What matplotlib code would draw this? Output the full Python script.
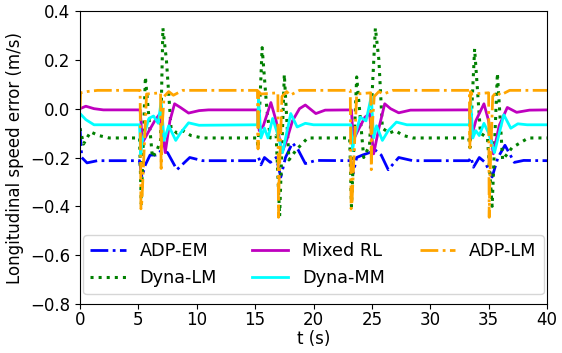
import matplotlib
matplotlib.use("Agg")
import matplotlib.pyplot as plt

# ---------------- data ----------------
t_adp_em = [0, 0.15, 0.6, 1.5, 5.1, 5.3, 5.6, 6.0, 6.5, 7.0, 7.5, 8.3, 9.4, 10.5,
            15.1, 15.3, 15.5, 15.8, 16.3, 16.8, 17.2, 17.6, 18.2, 18.7, 19.3, 20.2,
            23.2, 23.4, 23.7, 24.2, 24.8, 25.3, 25.8, 26.4, 27.3, 28.5,
            33.3, 33.5, 33.7, 34.2, 34.7, 35.3, 35.8, 36.4, 37.2, 38.0, 40]
v_adp_em = [-0.08, -0.2, -0.222, -0.213, -0.213, -0.28, -0.23, -0.19, -0.19, -0.17, -0.18, -0.25, -0.2, -0.213,
            -0.213, -0.2, -0.23, -0.2, -0.22, -0.2, -0.28, -0.2, -0.14, -0.17, -0.225, -0.212,
            -0.213, -0.265, -0.2, -0.19, -0.18, -0.17, -0.19, -0.25, -0.2, -0.213,
            -0.213, -0.2, -0.24, -0.2, -0.22, -0.28, -0.2, -0.15, -0.22, -0.212, -0.213]

t_dyna_lm = [0, 0.3, 0.9, 1.6, 2.5, 5.1, 5.25, 5.6, 6.2, 6.6, 6.9, 7.1, 7.4, 7.8, 8.3, 8.8, 9.5, 10.5,
             15.15, 15.25, 15.6, 16.0, 16.3, 16.8, 17.1, 17.5, 17.9, 18.5, 19.5,
             23.1, 23.25, 23.7, 24.3, 24.8, 25.3, 25.6, 25.9, 26.5, 27.0, 27.7, 28.5,
             33.3, 33.4, 33.8, 34.3, 34.9, 35.3, 35.75, 36.2, 37.0, 38.4, 40]
v_dyna_lm = [-0.08, -0.145, -0.095, -0.11, -0.12, -0.12, -0.39, 0.13, -0.2, -0.17, -0.13, 0.33, 0.2, -0.08, -0.1, -0.09, -0.11, -0.12,
             -0.12, -0.16, 0.25, 0.0, -0.12, -0.11, -0.44, 0.14, -0.21, -0.17, -0.12,
             -0.12, -0.40, 0.13, -0.2, -0.15, 0.33, 0.2, -0.08, -0.1, -0.09, -0.11, -0.12,
             -0.12, -0.16, 0.245, -0.1, -0.12, -0.40, 0.145, -0.21, -0.16, -0.12, -0.12]

t_mixed = [0, 0.5, 1.2, 2.0, 5.15, 5.35, 5.8, 6.4, 6.85, 7.3, 7.7, 8.1, 8.6, 9.3, 10.2, 11.0,
           15.2, 15.35, 15.7, 16.35, 16.8, 17.3, 17.7, 18.2, 18.8, 19.3, 20.2, 21.0,
           23.25, 23.4, 23.7, 24.4, 24.8, 25.15, 25.6, 26.1, 26.6, 27.3, 28.3,
           33.35, 33.5, 33.9, 34.6, 35.0, 35.4, 35.9, 36.6, 37.4, 38.5, 40]
v_mixed = [0.0, 0.01, 0.0, -0.005, -0.005, -0.14, -0.1, -0.05, -0.02, -0.18, -0.05, 0.02, 0.005, -0.018, -0.008, -0.005,
           -0.005, -0.09, -0.07, 0.025, -0.05, -0.18, -0.13, -0.05, 0.0, 0.015, -0.02, -0.006,
           -0.005, -0.13, -0.1, -0.035, -0.02, -0.185, -0.08, 0.02, 0.0, -0.017, -0.006,
           -0.005, -0.12, -0.05, 0.02, -0.05, -0.185, -0.07, 0.005, -0.015, -0.006, -0.005]

t_dyna_mm = [0, 0.5, 1.2, 5.1, 5.2, 5.35, 5.9, 6.3, 6.7, 6.95, 7.2, 7.6, 8.2, 8.6, 9.3, 10.2,
             15.2, 15.3, 15.5, 15.8, 16.1, 16.5, 16.9, 17.35, 18.05, 18.6, 19.3, 20.0,
             23.2, 23.35, 23.5, 24.0, 24.5, 24.95, 25.15, 25.4, 25.9, 26.4, 27.1, 28.0,
             33.35, 33.45, 33.65, 33.9, 34.2, 34.6, 35.0, 35.5, 36.3, 36.9, 37.5, 38.3, 40]
v_dyna_mm = [-0.02, -0.045, -0.066, -0.066, -0.19, -0.13, -0.04, -0.03, -0.06, 0.03, -0.13, -0.07, -0.13, -0.1, -0.058, -0.068,
             -0.066, 0.04, -0.12, -0.08, -0.12, -0.04, -0.1, -0.18, -0.02, -0.075, -0.06, -0.066,
             -0.066, -0.17, -0.12, -0.035, -0.05, 0.05, -0.12, -0.07, -0.13, -0.09, -0.055, -0.066,
             -0.066, 0.045, -0.12, -0.09, -0.11, -0.06, -0.1, -0.18, -0.025, -0.08, -0.062, -0.066, -0.066]

t_adp_lm = [0, 0.05, 0.6, 1.5, 5.15, 5.22, 5.3, 5.7, 6.9, 6.95, 7.0, 7.2, 7.6, 8.0, 8.8,
            15.2, 15.25, 15.3, 15.5, 16.95, 17.0, 17.05, 17.3, 17.7, 18.0, 18.8,
            23.15, 23.22, 23.3, 23.7, 24.9, 24.95, 25.0, 25.2, 25.6, 26.0, 26.8,
            33.35, 33.4, 33.45, 33.6, 35.0, 35.05, 35.1, 35.35, 35.7, 36.0, 36.8, 40]
v_adp_lm = [0.0, 0.065, 0.07, 0.075, 0.075, -0.41, -0.38, 0.06, 0.065, -0.245, -0.1, 0.05, 0.07, 0.055, 0.075,
            0.075, -0.165, 0.07, 0.06, 0.065, -0.445, -0.3, 0.05, 0.07, 0.055, 0.075,
            0.075, -0.41, -0.38, 0.06, 0.065, -0.25, -0.1, 0.05, 0.07, 0.06, 0.075,
            0.075, -0.16, 0.07, 0.06, 0.065, -0.445, -0.3, 0.05, 0.07, 0.055, 0.075, 0.075]

y_ticks = [-0.8, -0.6, -0.4, -0.2, 0.0, 0.2, 0.4]
x_ticks = [0, 5, 10, 15, 20, 25, 30, 35, 40]

# ---------------- plot ----------------
plt.rcParams['font.family'] = ['DejaVu Sans']
fig = plt.figure(figsize=(5.62, 3.53), dpi=100)
ax = fig.add_axes([80 / 562, 1 - 304 / 353, (547 - 80) / 562, (304 - 11) / 353])

lw = 2.0
ax.plot(t_adp_em, v_adp_em, color='blue', linestyle='-.', lw=lw, label='ADP-EM')
ax.plot(t_dyna_lm, v_dyna_lm, color='green', linestyle=':', lw=2.2, label='Dyna-LM')
ax.plot(t_mixed, v_mixed, color='m', linestyle='-', lw=lw, label='Mixed RL')
ax.plot(t_dyna_mm, v_dyna_mm, color='cyan', linestyle='-', lw=lw, label='Dyna-MM')
ax.plot(t_adp_lm, v_adp_lm, color='orange', linestyle='-.', lw=lw, label='ADP-LM')

ax.set_xlim(0, 40)
ax.set_ylim(-0.8, 0.4)
ax.set_xticks(x_ticks)
ax.set_yticks(y_ticks)
ax.set_yticklabels([f'{v:.1f}'.replace('-', '\u2212') for v in y_ticks])
ax.tick_params(labelsize=12)
ax.tick_params(axis='x', pad=1.5)
ax.set_xlabel('t (s)', fontsize=12, labelpad=1)
ax.set_ylabel('Longitudinal speed error (m/s)', fontsize=12)
ax.legend(loc='lower center', ncol=3, fontsize=12.7, borderaxespad=0.55)

fig.savefig('out.png', dpi=100)
